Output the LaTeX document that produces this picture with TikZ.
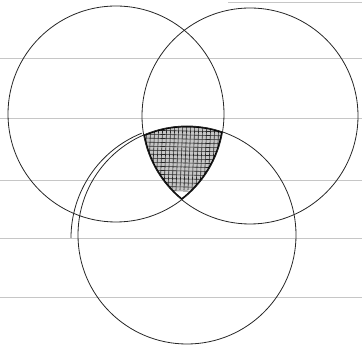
\documentclass[tikz,border=0pt]{standalone}
\usepackage{tikz}

\begin{document}
\begin{tikzpicture}[x=1pt,y=1pt,
    pen/.style={black!85,line width=0.8pt},
    hatch/.style={black!85,line width=0.6pt},
    ruled/.style={gray!45,line width=0.5pt}]
                \useasboundingbox (0,0) rectangle (362,350);
                % ruled paper
                \foreach \y in {292,232,170,112,53}
                    \draw[ruled] (0,\y) -- (362,\y);
                \draw[ruled] (228,348) -- (362,348);
                \coordinate (A) at (116,236);
                \coordinate (B) at (250,234);
                \coordinate (C) at (187,115);
                \coordinate (C') at (184,112);
                % shaded A and B and C
                \begin{scope}
                    \clip (A) circle[radius=108];
                    \clip (B) circle[radius=108];
                    \clip (C) circle[radius=109];
                    \fill[gray!45] (140,160) rectangle (230,230);
                    \foreach \t in {140,144,...,230}
                        \draw[hatch] (\t,160) -- (\t+3,230);
                    \foreach \t in {160,164,...,230}
                        \draw[hatch] (140,\t) -- (230,\t-2);
                    \draw[line width=2.6pt] (A) circle[radius=108];
                    \draw[line width=2.6pt] (B) circle[radius=108];
                    \draw[line width=2.6pt] (C) circle[radius=109];
                \end{scope}
                \draw[pen] (A) circle[radius=108];
                \draw[pen] (B) circle[radius=108];
                \draw[pen] (C) circle[radius=109];
                \draw[pen] (C') ++(112:113) arc[start angle=112,end angle=180,radius=113];
            \end{tikzpicture}
\end{document}
